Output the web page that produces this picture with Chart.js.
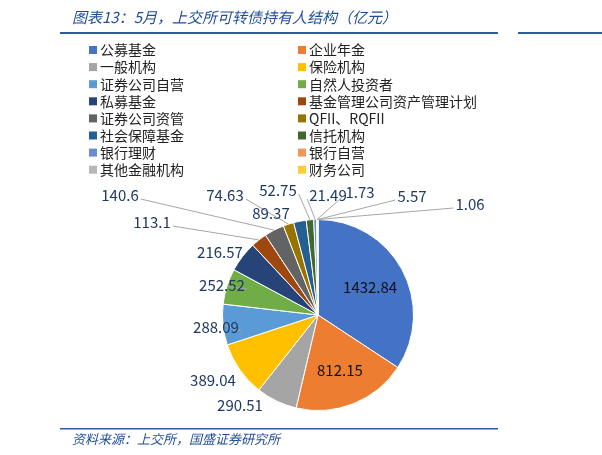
<!DOCTYPE html>
<html>
<head>
<meta charset="utf-8">
<script src="https://cdn.jsdelivr.net/npm/chart.js@4"></script>
<style>
  body { margin: 0; background: #fff; }
  #wrap { width: 602px; height: 455px; position: relative; }
</style>
</head>
<body>
<div id="wrap"><canvas id="myChart" width="602" height="455"></canvas></div>
<script>
// DATA
const labels = ["公募基金", "企业年金", "一般机构", "保险机构", "证券公司自营", "自然人投资者",
  "私募基金", "基金管理公司资产管理计划", "证券公司资管", "QFII、RQFII", "社会保障基金",
  "信托机构", "银行理财", "银行自营", "其他金融机构", "财务公司"];
const values = [1432.84, 812.15, 290.51, 389.04, 288.09, 252.52, 216.57, 113.1, 140.6,
  74.63, 89.37, 52.75, 21.49, 1.73, 5.57, 1.06];
const colors = ["#4472c4", "#ed7d31", "#a5a5a5", "#ffc000", "#5b9bd5", "#70ad47",
  "#264478", "#9e480e", "#636363", "#997300", "#255e91", "#43682b",
  "#698ed0", "#f1975a", "#b7b7b7", "#ffcd33"];
// label anchor points (text centre) for each slice; null = inside the slice
const labelSpots = [null, null, [240, 405], [213, 380], [216, 327], [222, 285], [220, 252],
  [152, 222], [120, 195], [225, 195], [271, 213], [278, 190], [328, 195], [360, 192],
  [412, 196], [470, 204]];

const FONT = '"Noto Sans CJK SC", "Noto Sans", sans-serif';
const BLUE = "#1f4e99";

const decor = {
  id: "decor",
  afterDraw(chart) {
    const ctx = chart.ctx;
    ctx.save();
    // title
    ctx.fillStyle = BLUE;
    ctx.font = "italic 15px " + FONT;
    ctx.textBaseline = "middle";
    ctx.fillText("图表13：5月，上交所可转债持有人结构（亿元）", 72, 17);
    ctx.fillStyle = "#2e5aa0";
    ctx.fillRect(60, 32, 438, 2);
    ctx.fillRect(518, 32, 84, 2);
    // legend
    ctx.font = "14px " + FONT;
    labels.forEach((l, i) => {
      const x = i % 2 === 0 ? 89 : 298;
      const y = 50 + Math.floor(i / 2) * 17.1;
      ctx.fillStyle = colors[i];
      ctx.fillRect(x, y - 4, 8, 8);
      ctx.fillStyle = "#222";
      ctx.fillText(l, x + 11, y);
    });
    // data labels
    const meta = chart.getDatasetMeta(0);
    ctx.font = "15px " + FONT;
    ctx.textAlign = "center";
    meta.data.forEach((arc, i) => {
      const mid = (arc.startAngle + arc.endAngle) / 2;
      const txt = String(values[i]);
      if (!labelSpots[i]) {
        const r = arc.outerRadius * 0.62;
        ctx.fillStyle = "#111";
        ctx.fillText(txt, arc.x + Math.cos(mid) * r, arc.y + Math.sin(mid) * r);
        return;
      }
      const [lx, ly] = labelSpots[i];
      const ex = arc.x + Math.cos(mid) * arc.outerRadius;
      const ey = arc.y + Math.sin(mid) * arc.outerRadius;
      const w = ctx.measureText(txt).width;
      const tx = ex > lx ? lx + w / 2 + 2 : lx - w / 2 - 2;
      const d = Math.hypot(ex - tx, ey - ly);
      if (d > 16) {
        ctx.strokeStyle = "#a6a6a6";
        ctx.lineWidth = 1;
        ctx.beginPath();
        ctx.moveTo(ex, ey);
        ctx.lineTo(tx, ly + 4);
        ctx.stroke();
      }
      ctx.fillStyle = "#1f3864";
      ctx.fillText(txt, lx, ly);
    });
    // footer
    ctx.textAlign = "left";
    ctx.fillStyle = "#2e5aa0";
    ctx.fillRect(60, 428, 438, 1.5);
    ctx.fillStyle = BLUE;
    ctx.font = "italic 13px " + FONT;
    ctx.fillText("资料来源：上交所，国盛证券研究所", 72, 439);
    ctx.restore();
  }
};

new Chart(document.getElementById("myChart").getContext("2d"), {
  type: "pie",
  data: {
    labels: labels,
    datasets: [{ data: values, backgroundColor: colors, borderColor: "#fff", borderWidth: 1 }]
  },
  options: {
    responsive: false,
    animation: false,
    layout: { padding: { left: 222, right: 188, top: 219, bottom: 44 } },
    plugins: { legend: { display: false }, tooltip: { enabled: false } }
  },
  plugins: [decor]
});
</script>
</body>
</html>
